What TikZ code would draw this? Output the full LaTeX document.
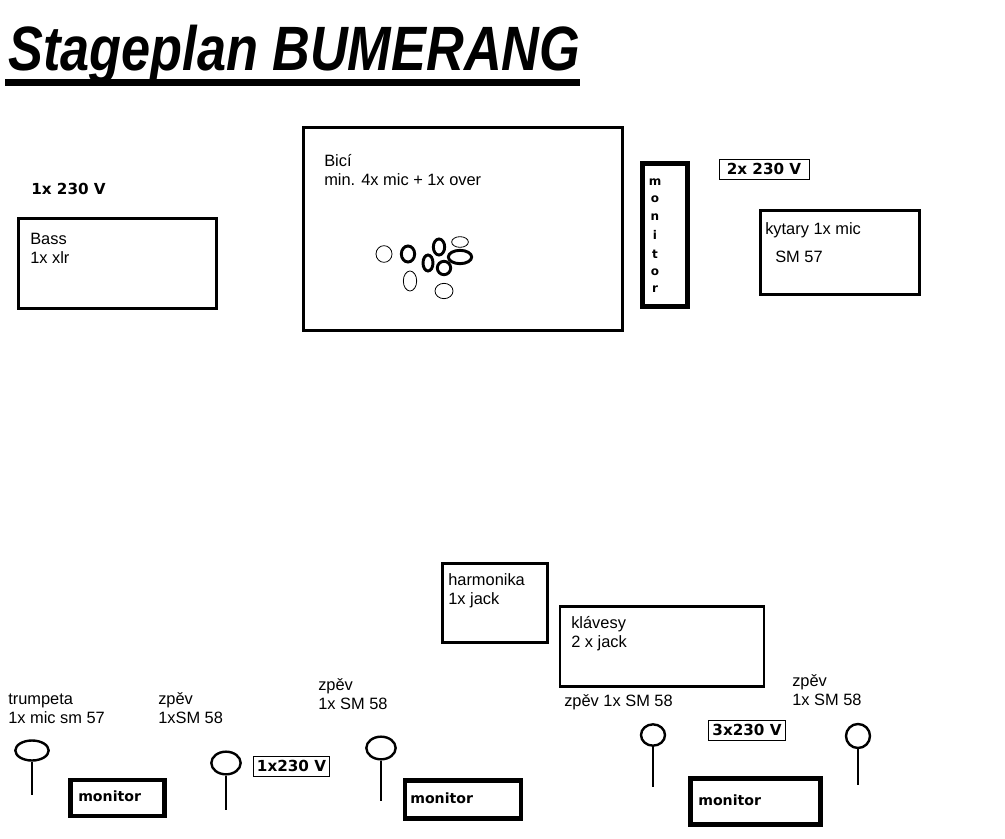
\documentclass[tikz,border=0pt]{standalone}
\usepackage{fontspec}
\setmainfont{Liberation Sans}
\newfontfamily\boldwide{DejaVu Sans}[BoldFont={DejaVu Sans Bold}]
\usetikzlibrary{shapes.geometric}
\begin{document}
\begin{tikzpicture}[
      x=0.75pt, y=-0.75pt,
      box/.style={draw, line width=2.2pt, inner sep=0pt},
      thickbox/.style={box, line width=3.6pt},
      powerbox/.style={draw, line width=0.75pt, inner sep=0pt, minimum height=15pt, font=\boldwide\bfseries\fontsize{11.4}{12}\selectfont},
      power/.style={anchor=west, inner sep=0pt, font=\boldwide\bfseries\fontsize{11.4}{12}\selectfont},
      lbl/.style={anchor=base west, inner sep=0pt, yshift=-4.6pt, font=\fontsize{12.3}{14}\selectfont},
      monlbl/.style={anchor=base west, inner sep=0pt, yshift=-3.4pt, font=\boldwide\bfseries\fontsize{10.6}{11}\selectfont},
      letter/.style={inner sep=0pt, font=\boldwide\bfseries\fontsize{9}{10}\selectfont},
      oval/.style={draw, ellipse, inner sep=0pt, line width=0.6pt},
      fatoval/.style={oval, line width=2.2pt},
      micoval/.style={draw, ellipse, inner sep=0pt, line width=1.8pt},
      stem/.style={line width=1.8pt}
    ]
      \useasboundingbox (0,0) rectangle (1005,838);

      \node[anchor=west, inner sep=0pt, xscale=0.834, transform shape, font=\bfseries\itshape\fontsize{47}{50}\selectfont] (title) at (8,54) {Stageplan BUMERANG};
      \fill (5,79) rectangle (580,86);

      % backline
      \node[power] (powerbass) at (31,189) {1x 230 V};
      \node[box, minimum width=148pt, minimum height=68pt] (bass) at (117.5,263.5) {};
      \node[lbl] (basstext) at (30,238) {Bass};
      \node[lbl] (bassmic) at (30,257) {1x xlr};

      \node[box, minimum width=239pt, minimum height=152pt] (drums) at (463,229) {};
      \node[lbl] (drumstext) at (324,160) {Bicí};
      \node[lbl] (drumsmic) at (324,179) {min. 4x mic + 1x over};

      \node[oval, minimum width=12pt, minimum height=12.5pt] (floor) at (384,254) {};
      \node[fatoval, minimum width=10pt, minimum height=12pt] (snare) at (408,254) {};
      \node[fatoval, minimum width=8.5pt, minimum height=12pt] (tomone) at (439,247) {};
      \node[oval, minimum width=12.5pt, minimum height=8pt] (crash) at (460,242) {};
      \node[fatoval, minimum width=7.5pt, minimum height=12pt] (tomtwo) at (428,263) {};
      \node[fatoval, minimum width=10pt, minimum height=10pt] (kick) at (444,268) {};
      \node[fatoval, minimum width=17.5pt, minimum height=10pt] (tomthree) at (460,257) {};
      \node[oval, minimum width=10pt, minimum height=15pt] (hihat) at (410,281) {};
      \node[oval, minimum width=13.5pt, minimum height=11.5pt] (ride) at (444,291) {};

      \node[thickbox, minimum width=33.5pt, minimum height=107pt] (monitorup) at (665,235) {};
      \node[letter] (m1) at (655,182) {m};
      \node[letter] (m2) at (655,199) {o};
      \node[letter] (m3) at (655,217) {n};
      \node[letter] (m4) at (655,235) {i};
      \node[letter] (m5) at (655,254) {t};
      \node[letter] (m6) at (655,272) {o};
      \node[letter] (m7) at (655,289) {r};

      \node[powerbox, minimum width=67.5pt] (powerguitar) at (764,169) {2x 230 V};
      \node[box, minimum width=119pt, minimum height=63pt] (guitar) at (840,252.5) {};
      \node[lbl] (guitartext) at (765,228) {kytary 1x mic};
      \node[lbl] (guitarmic) at (775,256) {SM 57};

      % front line
      \node[box, minimum width=79pt, minimum height=59pt] (harp) at (495,603) {};
      \node[lbl] (harptext) at (448,579) {harmonika};
      \node[lbl] (harpmic) at (448,598) {1x jack};

      \node[box, minimum width=153pt, minimum height=60pt] (keys) at (662,646.5) {};
      \node[lbl] (keystext) at (571,622) {klávesy};
      \node[lbl] (keysmic) at (571,641) {2 x jack};

      \node[lbl] (trumpet) at (8,698) {trumpeta};
      \node[lbl] (trumpetmic) at (8,717) {1x mic sm 57};
      \node[lbl] (voxone) at (158,698) {zpěv};
      \node[lbl] (voxonemic) at (158,717) {1xSM 58};
      \node[lbl] (voxtwo) at (318,684) {zpěv};
      \node[lbl] (voxtwomic) at (318,703) {1x SM 58};
      \node[lbl] (voxthree) at (564,700) {zpěv 1x SM 58};
      \node[lbl] (voxfour) at (792,680) {zpěv};
      \node[lbl] (voxfourmic) at (792,699) {1x SM 58};

      \node[micoval, minimum width=25pt, minimum height=15pt] (micone) at (32,750.5) {};
      \coordinate (miconeend) at (32,795);
      \node[micoval, minimum width=22pt, minimum height=17pt] (mictwo) at (226,763) {};
      \coordinate (mictwoend) at (226,810);
      \node[micoval, minimum width=22pt, minimum height=17pt] (micthree) at (381,748) {};
      \coordinate (micthreeend) at (381,801);
      \node[micoval, minimum width=18pt, minimum height=16pt] (micfour) at (653,735) {};
      \coordinate (micfourend) at (653,787);
      \node[micoval, minimum width=18pt, minimum height=18pt] (micfive) at (858,736) {};
      \coordinate (micfiveend) at (858,785);
      \draw[stem] (micone) -- (miconeend);
      \draw[stem] (mictwo) -- (mictwoend);
      \draw[stem] (micthree) -- (micthreeend);
      \draw[stem] (micfour) -- (micfourend);
      \draw[stem] (micfive) -- (micfiveend);

      \node[powerbox, minimum width=57.5pt] (powerleft) at (291.5,766) {1x230 V};
      \node[powerbox, minimum width=58pt] (powerright) at (747,730) {3x230 V};

      \node[thickbox, minimum width=70pt, minimum height=27pt] (monitorone) at (117.5,798) {};
      \node[monlbl] (monitoronetext) at (78,797) {monitor};
      \node[thickbox, minimum width=87pt, minimum height=28pt] (monitortwo) at (463,799.5) {};
      \node[monlbl] (monitortwotext) at (410,799) {monitor};
      \node[thickbox, minimum width=97pt, minimum height=34pt] (monitorthree) at (755.5,801.5) {};
      \node[monlbl] (monitorthreetext) at (698,801) {monitor};
    \end{tikzpicture}
\end{document}
